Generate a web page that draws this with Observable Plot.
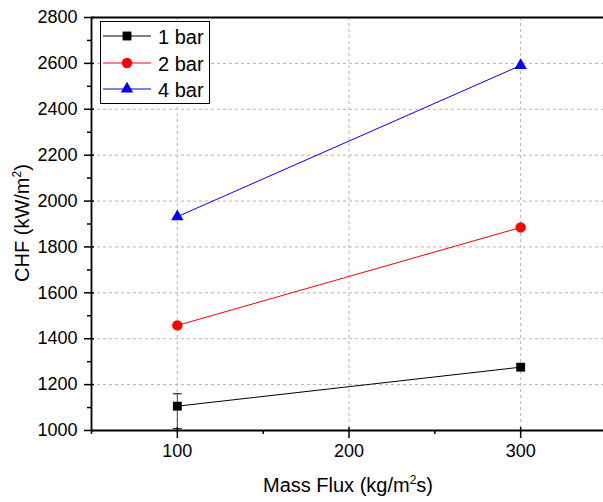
<!DOCTYPE html>
<html>
<head>
<meta charset="utf-8">
<script src="https://cdn.jsdelivr.net/npm/d3@7"></script>
<script src="https://cdn.jsdelivr.net/npm/@observablehq/plot@0.6"></script>
<style>
  html, body { margin: 0; padding: 0; background: #fff; }
  #wrap { position: relative; width: 603px; height: 502px; overflow: hidden; font-family: "Liberation Sans", Arial, sans-serif; }
  #wrap svg { overflow: hidden; }
  .ttl { position: absolute; font-size: 20px; color: #000; white-space: nowrap; line-height: 1; }
  .ttl sup { font-size: 12px; vertical-align: 0; position: relative; top: -8px; }
  #legend { position: absolute; left: 100px; top: 21px; width: 108px; height: 81px; border: 1px solid #000; background: #fff; }
  .lrow { position: absolute; left: 0; height: 26px; width: 108px; }
  .lrow svg { position: absolute; left: 0; top: 0; }
  .lrow span { position: absolute; left: 57px; top: 2px; font-size: 20px; line-height: 22px; }
</style>
</head>
<body>
<div id="wrap"></div>
<script>
// Data
const massFlux = [100, 300];
const series = ["1 bar", "2 bar", "4 bar"];
const chf1bar = [1106, 1276];
const chf2bar = [1458, 1885];
const chf4bar = [1932, 2591];
const err1barLow = [1008, null];
const err1barHigh = [1160, null];
const colors = ["#000000", "#ff0000", "#0000ff"];
const symbols = ["square", "circle", "triangle"];
const yMajor = [1000, 1200, 1400, 1600, 1800, 2000, 2200, 2400, 2600, 2800];
const yMinor = [1100, 1300, 1500, 1700, 1900, 2100, 2300, 2500, 2700];
const xMajor = [100, 200, 300];
const xMinor = [50, 150, 250, 350];

const seriesValues = [chf1bar, chf2bar, chf4bar];
const data = [];
series.forEach((s, i) => massFlux.forEach((m, j) => data.push({series: s, x: m, y: seriesValues[i][j]})));
const errs = massFlux.map((m, j) => ({x: m, lo: err1barLow[j], hi: err1barHigh[j]})).filter(d => d.lo != null);

const hline = {
  draw(context, size) {
    const w = Math.sqrt(size / Math.PI);
    context.moveTo(-w, 0);
    context.lineTo(w, 0);
  }
};

const chart = Plot.plot({
  width: 603,
  height: 502,
  marginLeft: 91,
  marginRight: -3,
  marginTop: 17,
  marginBottom: 72,
  style: {fontFamily: "'Liberation Sans', Arial, sans-serif", fontSize: "18px", color: "#000", background: "#fff"},
  x: {domain: [50, 350]},
  y: {domain: [1000, 2800]},
  color: {domain: series, range: colors},
  symbol: {domain: series, range: symbols},
  marks: [
    Plot.gridX(xMajor, {stroke: "#b4b4b4", strokeOpacity: 1, strokeDasharray: "3,3", strokeWidth: 1}),
    Plot.gridY(yMajor, {stroke: "#b4b4b4", strokeOpacity: 1, strokeDasharray: "3,3", strokeWidth: 1}),
    Plot.ruleX(errs, {x: "x", y1: "lo", y2: "hi", stroke: "#444", strokeWidth: 1}),
    Plot.dot(errs, {x: "x", y: "lo", symbol: hline, r: 4.5, stroke: "#000", strokeWidth: 1}),
    Plot.dot(errs, {x: "x", y: "hi", symbol: hline, r: 4.5, stroke: "#000", strokeWidth: 1}),
    Plot.line(data, {x: "x", y: "y", z: "series", stroke: "series", strokeWidth: 1}),
    Plot.dot(data.filter(d => d.series === "1 bar"), {x: "x", y: "y", symbol: "series", fill: "series", r: 5}),
    Plot.dot(data.filter(d => d.series === "2 bar"), {x: "x", y: "y", symbol: "series", fill: "series", r: 5.2}),
    Plot.dot(data.filter(d => d.series === "4 bar"), {x: "x", y: "y", symbol: "series", fill: "series", r: 4.6}),
    Plot.axisY(yMajor, {tickSize: 10, dx: 3, tickPadding: 7, tickFormat: d => String(d), label: null, strokeWidth: 1.5}),
    Plot.axisY(yMinor, {tickSize: 4, tickFormat: () => "", label: null, strokeWidth: 1.5}),
    Plot.axisX(xMajor, {tickSize: 11, dy: -3, tickPadding: 6, tickFormat: d => String(d), label: null, strokeWidth: 1.5}),
    Plot.axisX(xMinor, {tickSize: 4, tickFormat: () => "", label: null, strokeWidth: 1.5}),
    Plot.ruleY([1000, 2800], {stroke: "#000", strokeWidth: 1.8}),
    Plot.ruleX([50, 350], {stroke: "#000", strokeWidth: 1.8})
  ]
});

const wrap = document.getElementById("wrap");
wrap.appendChild(chart);

// Axis titles
const xt = document.createElement("div");
xt.className = "ttl";
xt.innerHTML = "Mass Flux (kg/m<sup>2</sup>s)";
xt.style.left = "348px";
xt.style.top = "475px";
xt.style.transform = "translateX(-50%)";
wrap.appendChild(xt);

const yt = document.createElement("div");
yt.className = "ttl";
yt.innerHTML = "CHF (kW/m<sup>2</sup>)";
yt.style.left = "22px";
yt.style.top = "223px";
yt.style.transform = "translate(-50%, -50%) rotate(-90deg)";
wrap.appendChild(yt);

// Legend
const legend = document.createElement("div");
legend.id = "legend";
series.forEach((s, i) => {
  const row = document.createElement("div");
  row.className = "lrow";
  row.style.top = (2 + i * 26.5) + "px";
  const svg = d3.create("svg").attr("width", 56).attr("height", 26);
  svg.append("line").attr("x1", 2).attr("x2", 50).attr("y1", 12).attr("y2", 12)
    .attr("stroke", colors[i]).attr("stroke-width", 1);
  const sym = [d3.symbolSquare, d3.symbolCircle, d3.symbolTriangle][i];
  const r = [5, 5.2, 4.6][i];
  svg.append("path").attr("transform", "translate(26,12)")
    .attr("d", d3.symbol(sym, Math.PI * r * r)()).attr("fill", colors[i]);
  row.appendChild(svg.node());
  const sp = document.createElement("span");
  sp.textContent = s;
  row.appendChild(sp);
  legend.appendChild(row);
});
wrap.appendChild(legend);
</script>
</body>
</html>
